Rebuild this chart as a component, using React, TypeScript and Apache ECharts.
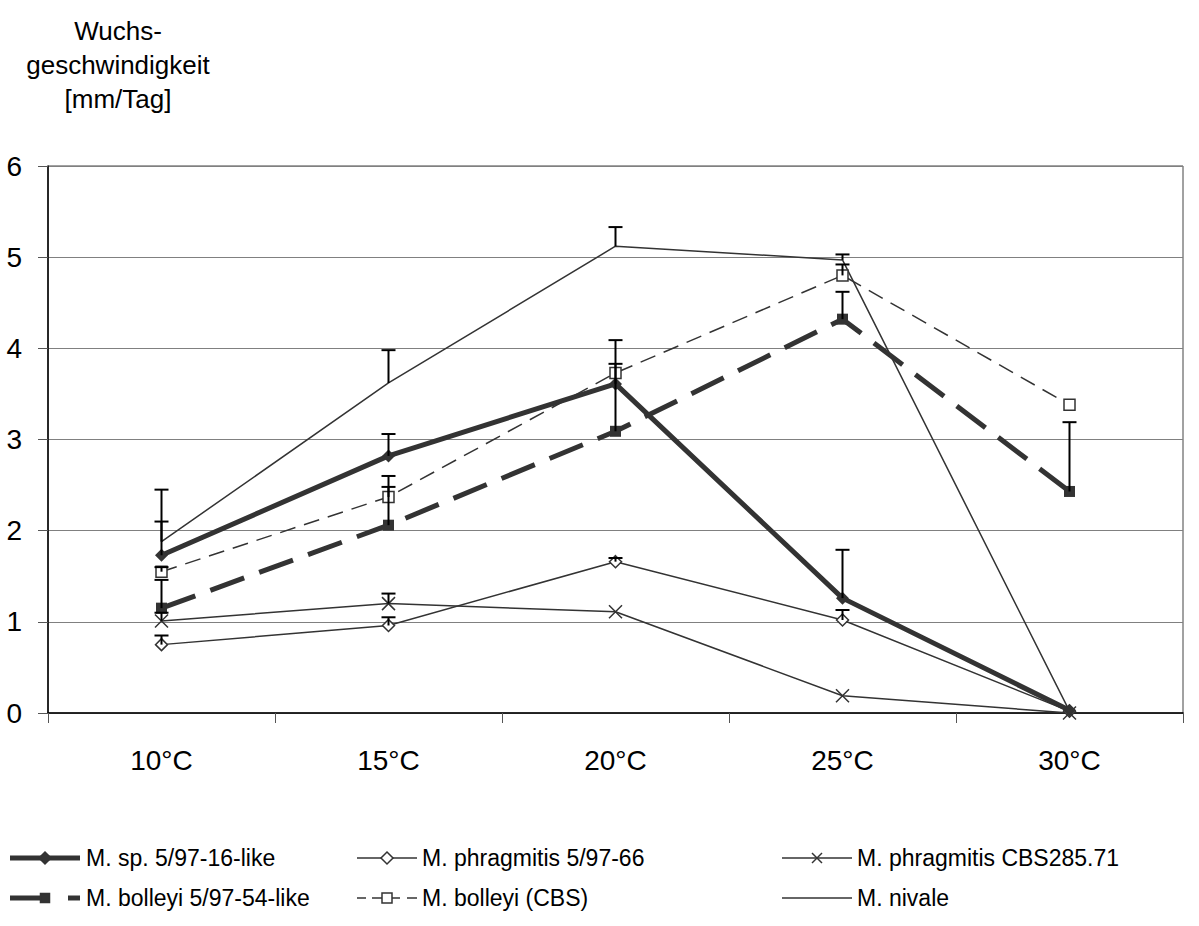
import React, { useEffect, useRef } from "react";
import * as echarts from "echarts";

const categories = ["10°C", "15°C", "20°C", "25°C", "30°C"];
const yTicks = [0, 1, 2, 3, 4, 5, 6];

const spLike = [1.73, 2.82, 3.61, 1.26, 0.03];
const spLikeErr = [2.1, 3.06, 4.09, 1.79, null];
const phr66 = [0.75, 0.96, 1.66, 1.02, 0.02];
const phr66Err = [0.85, 1.05, 1.7, 1.13, null];
const phrCBS = [1.01, 1.2, 1.11, 0.19, 0.0];
const phrCBSErr = [1.1, 1.31, null, null, null];
const bol54 = [1.15, 2.06, 3.09, 4.32, 2.43];
const bol54Err = [1.46, 2.48, 3.83, 4.62, 3.19];
const bolCBS = [1.55, 2.37, 3.73, 4.8, 3.38];
const bolCBSErr = [1.6, 2.6, null, 4.92, null];
const nivale = [1.88, 3.62, 5.12, 4.97, 0.02];
const nivaleErr = [2.45, 3.98, 5.33, 5.03, null];

const names = [
  "M. sp. 5/97-16-like",
  "M. phragmitis 5/97-66",
  "M. phragmitis CBS285.71",
  "M. bolleyi 5/97-54-like",
  "M. bolleyi (CBS)",
  "M. nivale",
];

const FONT = "Liberation Sans, Arial, sans-serif";
const LINE = "#333333";
const FS = 28;
const LFS = 23;

function errData(vals: number[], errs: (number | null)[]) {
  const out: number[][] = [];
  vals.forEach((v, i) => {
    const e = errs[i];
    if (e !== null && e !== undefined) out.push([i, v, e]);
  });
  return out;
}

const renderErr = (params: any, api: any) => {
  const x = api.value(0);
  const p0 = api.coord([x, api.value(1)]);
  const p1 = api.coord([x, api.value(2)]);
  return {
    type: "group",
    children: [
      {
        type: "line",
        shape: { x1: p0[0], y1: p0[1], x2: p1[0], y2: p1[1] },
        style: { stroke: "#000", lineWidth: 2 },
      },
      {
        type: "line",
        shape: { x1: p1[0] - 7, y1: p1[1], x2: p1[0] + 7, y2: p1[1] },
        style: { stroke: "#000", lineWidth: 2 },
      },
    ],
  };
};

function hline(x1: number, x2: number, y: number, w: number) {
  return { type: "line", shape: { x1, y1: y, x2, y2: y }, style: { stroke: LINE, lineWidth: w } };
}
function diamond(cx: number, cy: number, r: number, fill: string) {
  return {
    type: "polygon",
    shape: { points: [[cx, cy - r], [cx + r, cy], [cx, cy + r], [cx - r, cy]] },
    style: { fill, stroke: LINE, lineWidth: 1.5 },
  };
}
function square(cx: number, cy: number, s: number, fill: string) {
  return {
    type: "rect",
    shape: { x: cx - s / 2, y: cy - s / 2, width: s, height: s },
    style: { fill, stroke: LINE, lineWidth: 1.5 },
  };
}
function label(x: number, y: number, text: string) {
  return {
    type: "text",
    x,
    y,
    style: { text, fontSize: LFS, fontFamily: FONT, fill: "#000", textVerticalAlign: "middle", textAlign: "left" },
  };
}

function buildLegend() {
  const r1 = 858;
  const r2 = 898;
  const els: any[] = [];
  els.push(hline(10, 80, r1, 5));
  els.push(diamond(45, r1, 6, LINE));
  els.push(label(86, r1, names[0]));
  els.push({ type: "rect", shape: { x: 10, y: r2 - 2.5, width: 34, height: 5 }, style: { fill: LINE } });
  els.push(square(45, r2, 9, LINE));
  els.push({ type: "rect", shape: { x: 68, y: r2 - 2.5, width: 12, height: 5 }, style: { fill: LINE } });
  els.push(label(86, r2, names[3]));
  els.push(hline(357, 417, r1, 1.5));
  els.push(diamond(387, r1, 6, "#fff"));
  els.push(label(422, r1, names[1]));
  els.push(hline(357, 366, r2, 1.5));
  els.push(hline(372, 382, r2, 1.5));
  els.push(hline(392, 400, r2, 1.5));
  els.push(hline(407, 417, r2, 1.5));
  els.push(square(387, r2, 10, "#fff"));
  els.push(label(422, r2, names[4]));
  els.push(hline(782, 852, r1, 1.5));
  els.push({ type: "line", shape: { x1: 812, y1: r1 - 5, x2: 822, y2: r1 + 5 }, style: { stroke: LINE, lineWidth: 1.5 } });
  els.push({ type: "line", shape: { x1: 812, y1: r1 + 5, x2: 822, y2: r1 - 5 }, style: { stroke: LINE, lineWidth: 1.5 } });
  els.push(label(857, r1, names[2]));
  els.push(hline(782, 852, r2, 1.5));
  els.push(label(857, r2, names[5]));
  return els;
}

export default function App() {
  const ref = useRef<HTMLDivElement>(null);
  useEffect(() => {
    if (!ref.current) return;
    const chart = echarts.init(ref.current, undefined, { renderer: "svg" });
    const errSeries = [
      [spLike, spLikeErr],
      [phr66, phr66Err],
      [phrCBS, phrCBSErr],
      [bol54, bol54Err],
      [bolCBS, bolCBSErr],
      [nivale, nivaleErr],
    ].map(([v, e], k) => ({
      type: "custom",
      name: "err" + k,
      renderItem: renderErr,
      data: errData(v as number[], e as (number | null)[]),
      z: 5,
      silent: true,
    }));
    chart.setOption({
      animation: false,
      backgroundColor: "#fff",
      textStyle: { fontFamily: FONT },
      grid: {
        left: 48,
        right: 16,
        top: 166,
        bottom: 213,
        show: true,
        borderColor: "#444",
        borderWidth: 1,
      },
      graphic: [
        {
          type: "text",
          x: 118,
          y: 14,
          style: {
            text: "Wuchs-\ngeschwindigkeit\n[mm/Tag]",
            textAlign: "center",
            fontSize: 26,
            lineHeight: 34,
            fontFamily: FONT,
            fill: "#000",
          },
        },
        ...buildLegend(),
      ],
      xAxis: {
        type: "category",
        data: categories,
        boundaryGap: true,
        axisLine: { lineStyle: { color: "#000", width: 1.5 } },
        axisTick: { show: true, length: 10, lineStyle: { color: "#555" } },
        axisLabel: { fontSize: FS, color: "#000", margin: 33, fontFamily: FONT },
        splitLine: { show: false },
      },
      yAxis: {
        type: "value",
        min: yTicks[0],
        max: yTicks[yTicks.length - 1],
        interval: 1,
        axisLine: { show: true, lineStyle: { color: "#000", width: 1.5 } },
        axisTick: { show: true, length: 10, lineStyle: { color: "#555" } },
        axisLabel: { fontSize: FS, color: "#000", margin: 26, fontFamily: FONT },
        splitLine: { show: true, lineStyle: { color: "#808080", width: 1 } },
      },
      series: [
        {
          name: names[0],
          type: "line",
          data: spLike,
          symbol: "diamond",
          symbolSize: 13,
          itemStyle: { color: LINE },
          lineStyle: { color: LINE, width: 5 },
          z: 4,
        },
        {
          name: names[1],
          type: "line",
          data: phr66,
          symbol: "diamond",
          symbolSize: 12,
          itemStyle: { color: "#fff", borderColor: LINE, borderWidth: 1.5 },
          lineStyle: { color: LINE, width: 1.5 },
          z: 3,
        },
        {
          name: names[2],
          type: "line",
          data: phrCBS,
          symbol: "path://M0,0L10,10M10,0L0,10",
          symbolSize: 13,
          itemStyle: { color: "none", borderColor: LINE, borderWidth: 1.5 },
          lineStyle: { color: LINE, width: 1.5 },
          z: 3,
        },
        {
          name: names[3],
          type: "line",
          data: bol54,
          symbol: "rect",
          symbolSize: 11,
          itemStyle: { color: LINE },
          lineStyle: { color: LINE, width: 5, type: [36, 16] },
          z: 4,
        },
        {
          name: names[4],
          type: "line",
          data: bolCBS,
          symbol: "rect",
          symbolSize: 11,
          itemStyle: { color: "#fff", borderColor: LINE, borderWidth: 1.5 },
          lineStyle: { color: LINE, width: 1.5, type: [16, 9] },
          z: 3,
        },
        {
          name: names[5],
          type: "line",
          data: nivale,
          symbol: "none",
          itemStyle: { color: LINE },
          lineStyle: { color: LINE, width: 1.5 },
          z: 3,
        },
        ...errSeries,
      ],
    });
    return () => chart.dispose();
  }, []);
  return (
    <div
      ref={ref}
      style={{ position: "fixed", left: 0, top: 0, width: 1199, height: 926, background: "#fff" }}
    />
  );
}
